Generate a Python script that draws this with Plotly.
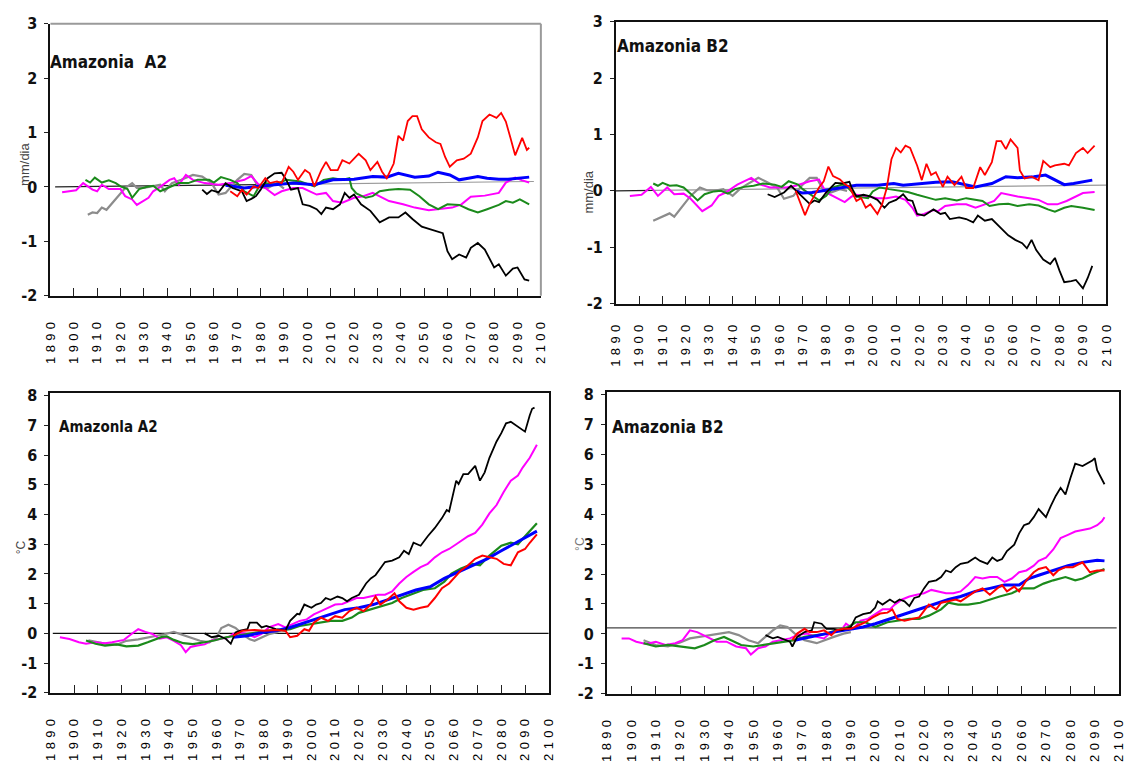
import plotly.graph_objects as go

W, H = 1135, 774

# decade labels on the time axes
label_years = list(range(1890, 2101, 10))
y_ticks_precip = [-2, -1, 0, 1, 2, 3]
y_ticks_temp = [-2, -1, 0, 1, 2, 3, 4, 5, 6, 7, 8]

# ---------------- precipitation anomaly, A2 (mm/dia) ----------------
tl_base_years = [1892, 1990, 2097]
tl_base_vals = [0.0, 0.048, 0.1]

tl_grey_x = [1906, 1908, 1910, 1912, 1914, 1916, 1919, 1922, 1925, 1927, 1930, 1934, 1937, 1939,
             1942, 1946, 1951, 1955, 1959, 1962, 1965, 1970, 1973, 1976, 1979, 1983, 1987, 1990]
tl_grey_y = [-0.51, -0.47, -0.48, -0.38, -0.42, -0.32, -0.17, -0.02, 0.07, -0.02, -0.02, 0.01, 0.04, -0.08,
             0.07, 0.13, 0.22, 0.19, 0.07, -0.14, -0.11, 0.13, 0.24, 0.22, 0.01, -0.02, 0.07, -0.03]

tl_magenta_x = [1895, 1901, 1904, 1908, 1910, 1912, 1915, 1920, 1922, 1925, 1927, 1930, 1932, 1934,
                1937, 1941, 1943, 1945, 1948, 1951, 1956, 1962, 1967, 1973, 1976, 1979, 1982, 1986,
                1989, 1994, 1998, 2004, 2008, 2011, 2015, 2020, 2024, 2028, 2031, 2035, 2041, 2046,
                2052, 2056, 2062, 2066, 2070, 2076, 2082, 2085, 2089, 2092, 2095]
tl_magenta_y = [-0.10, -0.06, 0.07, -0.05, -0.08, 0.04, -0.04, -0.04, -0.17, -0.23, -0.33, -0.26, -0.20, -0.08,
                0.00, 0.13, 0.16, 0.04, 0.22, 0.13, 0.07, 0.04, 0.07, 0.13, 0.20, 0.05, -0.02, -0.15,
                -0.08, -0.02, -0.02, -0.14, -0.11, -0.26, -0.29, -0.20, -0.17, -0.11, -0.17, -0.26, -0.32, -0.38,
                -0.43, -0.41, -0.38, -0.32, -0.18, -0.16, -0.11, 0.08, 0.17, 0.12, 0.08]

tl_green_x = [1905, 1907, 1909, 1912, 1915, 1918, 1920, 1923, 1925, 1928, 1931, 1934, 1937, 1941,
              1945, 1949, 1953, 1958, 1960, 1963, 1967, 1970, 1973, 1977, 1979, 1982, 1986, 1991,
              1997, 2003, 2007, 2011, 2015, 2018, 2019, 2021, 2025, 2028, 2031, 2035, 2039, 2044,
              2048, 2052, 2056, 2060, 2065, 2069, 2073, 2077, 2082, 2085, 2088, 2091, 2095]
tl_green_y = [0.13, 0.08, 0.17, 0.08, 0.12, 0.07, 0.01, -0.04, -0.20, -0.04, 0.00, 0.02, -0.08, 0.00,
              0.07, 0.07, 0.13, 0.13, 0.08, 0.18, 0.13, 0.07, -0.08, -0.17, -0.02, 0.07, 0.04, 0.13,
              0.10, 0.01, 0.13, 0.16, 0.13, 0.16, -0.02, -0.12, -0.20, -0.17, -0.08, -0.05, -0.04, -0.05,
              -0.17, -0.32, -0.41, -0.32, -0.33, -0.41, -0.47, -0.41, -0.33, -0.26, -0.29, -0.23, -0.32]

tl_blue_x = [1965, 1969, 1973, 1977, 1981, 1986, 1994, 2003, 2011, 2020, 2028, 2034, 2039,
             2042, 2046, 2052, 2056, 2061, 2065, 2069, 2073, 2077, 2082, 2086, 2090, 2095]
tl_blue_y = [0.03, 0.00, -0.02, 0.00, 0.02, 0.04, 0.07, 0.04, 0.13, 0.14, 0.19, 0.18, 0.25,
             0.22, 0.18, 0.20, 0.27, 0.22, 0.13, 0.16, 0.19, 0.16, 0.14, 0.14, 0.16, 0.18]

tl_black_x = [1955, 1957, 1959, 1962, 1965, 1968, 1972, 1974, 1976, 1978, 1980, 1983, 1986, 1989,
              1991, 1993, 1996, 1998, 2001, 2004, 2006, 2008, 2011, 2014, 2016, 2018, 2020, 2023,
              2027, 2031, 2035, 2039, 2042, 2045, 2049, 2054, 2058, 2060, 2062, 2065, 2068, 2070,
              2073, 2076, 2080, 2082, 2085, 2088, 2090, 2093, 2095]
tl_black_y = [-0.05, -0.13, -0.06, -0.10, 0.07, -0.02, -0.08, -0.26, -0.22, -0.17, -0.05, 0.16, 0.25, 0.26,
              0.13, -0.05, -0.02, -0.32, -0.35, -0.41, -0.50, -0.38, -0.41, -0.32, -0.11, -0.20, -0.14, -0.32,
              -0.44, -0.65, -0.56, -0.56, -0.47, -0.59, -0.73, -0.79, -0.85, -1.18, -1.33, -1.24, -1.30, -1.12,
              -1.03, -1.15, -1.48, -1.42, -1.63, -1.50, -1.48, -1.70, -1.72]

tl_red_x = [1967, 1970, 1972, 1974, 1977, 1979, 1982, 1984, 1987, 1989, 1992, 1994, 1996, 1999,
            2001, 2003, 2006, 2008, 2010, 2013, 2015, 2018, 2020, 2022, 2025, 2027, 2030, 2032,
            2034, 2037, 2039, 2041, 2043, 2045, 2047, 2049, 2052, 2055, 2057, 2059, 2061, 2064,
            2067, 2070, 2073, 2075, 2078, 2081, 2083, 2085, 2087, 2089, 2092, 2094, 2095]
tl_red_y = [-0.08, -0.17, -0.05, -0.14, 0.01, -0.02, 0.16, 0.07, 0.10, 0.07, 0.37, 0.28, 0.13, 0.31,
            0.25, 0.01, 0.31, 0.46, 0.31, 0.31, 0.49, 0.43, 0.52, 0.61, 0.49, 0.31, 0.46, 0.28,
            0.16, 0.43, 0.94, 0.85, 1.21, 1.30, 1.30, 1.06, 0.91, 0.82, 0.79, 0.55, 0.37, 0.49,
            0.52, 0.61, 0.91, 1.21, 1.33, 1.27, 1.36, 1.20, 0.90, 0.58, 0.90, 0.68, 0.72]

# ---------------- precipitation anomaly, B2 (mm/dia) ----------------
tr_base_years = [1890, 1906, 2100]
tr_base_vals = [0.0, 0.008, 0.1]

tr_grey_x = [1906, 1910, 1913, 1915, 1919, 1922, 1926, 1929, 1932, 1936, 1940, 1943, 1946,
             1951, 1954, 1959, 1962, 1966, 1970, 1973, 1976, 1979, 1982, 1986, 1989]
tr_grey_y = [-0.53, -0.46, -0.40, -0.46, -0.26, -0.09, 0.06, 0.01, 0.00, 0.03, -0.09, 0.03, 0.11,
             0.23, 0.17, 0.06, -0.14, -0.09, 0.11, 0.23, 0.23, 0.00, -0.03, 0.03, 0.00]

tr_magenta_x = [1896, 1901, 1905, 1908, 1912, 1915, 1919, 1922, 1927, 1931, 1934, 1937, 1942,
                1948, 1952, 1956, 1963, 1967, 1973, 1977, 1980, 1984, 1988, 1991, 1993, 1998,
                2002, 2006, 2010, 2014, 2017, 2019, 2022, 2026, 2028, 2031, 2036, 2040, 2044,
                2048, 2052, 2055, 2058, 2062, 2067, 2071, 2075, 2079, 2083, 2087, 2090, 2095]
tr_magenta_y = [-0.09, -0.07, 0.07, -0.09, 0.06, -0.06, -0.05, -0.14, -0.36, -0.26, -0.09, -0.03, 0.11,
                0.23, 0.11, 0.06, 0.06, 0.09, 0.17, 0.20, -0.03, -0.11, -0.20, -0.10, -0.07, -0.10,
                -0.13, -0.13, -0.10, -0.16, -0.30, -0.44, -0.41, -0.34, -0.36, -0.27, -0.24, -0.24, -0.30,
                -0.24, -0.18, -0.04, -0.07, -0.10, -0.13, -0.16, -0.24, -0.24, -0.18, -0.10, -0.04, -0.02]

tr_green_x = [1906, 1908, 1910, 1913, 1916, 1919, 1922, 1925, 1928, 1932, 1935, 1938, 1941, 1945,
              1949, 1953, 1958, 1961, 1964, 1968, 1970, 1975, 1977, 1980, 1983, 1987, 1989, 1993,
              1998, 2000, 2003, 2007, 2012, 2015, 2019, 2023, 2027, 2031, 2036, 2040, 2044, 2047,
              2050, 2054, 2058, 2062, 2067, 2071, 2075, 2078, 2082, 2085, 2090, 2095]
tr_green_y = [0.13, 0.09, 0.14, 0.09, 0.10, 0.06, -0.05, -0.17, -0.06, -0.01, 0.00, -0.05, 0.03, 0.07,
              0.09, 0.13, 0.11, 0.07, 0.17, 0.11, 0.03, -0.11, -0.17, -0.09, 0.06, 0.11, 0.07, -0.10,
              -0.13, -0.01, 0.06, 0.03, 0.00, -0.02, -0.07, -0.11, -0.16, -0.13, -0.17, -0.13, -0.16, -0.18,
              -0.27, -0.24, -0.23, -0.27, -0.24, -0.26, -0.33, -0.37, -0.30, -0.27, -0.30, -0.34]

tr_blue_x = [1967, 1970, 1974, 1978, 1982, 1985, 1993, 2002, 2009, 2013, 2020, 2027, 2034,
             2041, 2044, 2051, 2057, 2062, 2069, 2074, 2078, 2082, 2086, 2090, 2094]
tr_blue_y = [0.00, -0.04, -0.03, 0.00, 0.03, 0.05, 0.10, 0.10, 0.13, 0.10, 0.13, 0.15, 0.16,
             0.10, 0.07, 0.13, 0.25, 0.23, 0.25, 0.28, 0.19, 0.11, 0.13, 0.16, 0.19]

tr_black_x = [1955, 1958, 1960, 1962, 1965, 1968, 1970, 1973, 1975, 1977, 1980, 1982, 1984, 1987,
              1990, 1991, 1993, 1996, 1999, 2002, 2005, 2007, 2010, 2013, 2015, 2017, 2019, 2022,
              2024, 2026, 2029, 2031, 2033, 2037, 2040, 2043, 2045, 2048, 2051, 2055, 2058, 2061,
              2064, 2066, 2068, 2070, 2073, 2076, 2078, 2080, 2082, 2085, 2087, 2090, 2092, 2094]
tr_black_y = [-0.06, -0.11, -0.07, -0.03, 0.09, -0.03, -0.11, -0.23, -0.17, -0.20, -0.03, 0.06, 0.14, 0.13,
              0.16, 0.05, -0.10, -0.07, -0.10, -0.16, -0.30, -0.21, -0.16, -0.06, -0.16, -0.18, -0.41, -0.44,
              -0.39, -0.33, -0.41, -0.39, -0.50, -0.47, -0.50, -0.56, -0.44, -0.53, -0.50, -0.67, -0.79, -0.87,
              -0.93, -1.02, -0.87, -1.05, -1.22, -1.30, -1.19, -1.42, -1.62, -1.60, -1.58, -1.73, -1.55, -1.33]

tr_red_x = [1967, 1969, 1971, 1973, 1975, 1977, 1979, 1981, 1983, 1986, 1988, 1990, 1993, 1995,
            1997, 1999, 2002, 2004, 2006, 2008, 2010, 2012, 2014, 2016, 2019, 2021, 2023, 2025,
            2027, 2030, 2032, 2035, 2038, 2040, 2043, 2046, 2048, 2051, 2053, 2055, 2057, 2059,
            2062, 2063, 2065, 2068, 2071, 2073, 2076, 2078, 2082, 2084, 2087, 2090, 2092, 2095]
tr_red_y = [0.00, -0.20, -0.43, -0.23, -0.09, 0.06, 0.17, 0.43, 0.26, 0.20, 0.12, 0.07, -0.18, -0.13,
            -0.30, -0.24, -0.41, -0.24, 0.05, 0.56, 0.76, 0.68, 0.80, 0.76, 0.45, 0.19, 0.48, 0.28,
            0.33, 0.07, 0.25, 0.10, 0.25, 0.05, 0.05, 0.42, 0.28, 0.51, 0.88, 0.88, 0.74, 0.91,
            0.76, 0.36, 0.22, 0.25, 0.19, 0.53, 0.42, 0.45, 0.48, 0.45, 0.67, 0.76, 0.67, 0.80]

# ---------------- temperature anomaly, A2 (°C) ----------------
bl_base_years = [1891, 2100]
bl_base_vals = [0.0, 0.0]

bl_grey_x = [1906, 1910, 1914, 1918, 1922, 1927, 1931, 1935, 1938, 1942, 1945, 1949,
             1953, 1957, 1960, 1962, 1965, 1968, 1971, 1974, 1976, 1979, 1982, 1986]
bl_grey_y = [-0.23, -0.30, -0.36, -0.38, -0.25, -0.20, -0.14, -0.09, -0.03, 0.05, -0.03, -0.14,
             -0.25, -0.30, -0.14, 0.18, 0.29, 0.18, -0.03, -0.20, -0.25, -0.14, -0.03, 0.05]

bl_magenta_x = [1894, 1898, 1902, 1905, 1909, 1913, 1916, 1921, 1924, 1927, 1930, 1933, 1936, 1939,
                1942, 1945, 1947, 1949, 1952, 1955, 1958, 1962, 1965, 1967, 1970, 1973, 1976, 1979,
                1982, 1986, 1989, 1992, 1995, 1998, 2001, 2004, 2007, 2010, 2013, 2016, 2019, 2022,
                2025, 2028, 2031, 2034, 2037, 2040, 2043, 2046, 2049, 2052, 2055, 2058, 2061, 2063,
                2066, 2069, 2072, 2075, 2078, 2081, 2084, 2087, 2089, 2092, 2095]
bl_magenta_y = [-0.13, -0.19, -0.30, -0.35, -0.30, -0.33, -0.30, -0.22, -0.03, 0.14, 0.05, -0.02, -0.18, -0.13,
                -0.25, -0.40, -0.63, -0.46, -0.41, -0.37, -0.24, -0.19, -0.13, -0.02, 0.03, -0.02, -0.13, -0.02,
                0.20, 0.31, 0.20, 0.31, 0.42, 0.47, 0.64, 0.75, 0.86, 0.97, 0.99, 1.08, 1.19, 1.19,
                1.24, 1.30, 1.30, 1.41, 1.68, 1.90, 2.07, 2.23, 2.34, 2.56, 2.73, 2.84, 3.00, 3.11,
                3.27, 3.38, 3.66, 4.04, 4.32, 4.76, 5.14, 5.31, 5.58, 5.91, 6.35]

bl_green_x = [1905, 1909, 1913, 1918, 1922, 1927, 1931, 1934, 1937, 1939, 1942, 1946, 1950, 1955,
              1959, 1964, 1968, 1973, 1977, 1982, 1986, 1991, 1995, 2000, 2004, 2008, 2013, 2017,
              2020, 2025, 2029, 2034, 2038, 2043, 2047, 2052, 2056, 2059, 2063, 2068, 2071, 2075,
              2080, 2084, 2087, 2090, 2093, 2095]
bl_green_y = [-0.24, -0.35, -0.41, -0.37, -0.44, -0.41, -0.30, -0.22, -0.12, -0.10, -0.22, -0.33, -0.36, -0.30,
              -0.24, -0.13, -0.08, -0.02, 0.03, 0.09, 0.09, 0.14, 0.25, 0.31, 0.36, 0.42, 0.42, 0.53,
              0.69, 0.80, 0.91, 1.02, 1.19, 1.35, 1.46, 1.52, 1.74, 2.01, 2.18, 2.34, 2.29, 2.62,
              2.95, 3.05, 3.00, 3.27, 3.55, 3.71]

bl_blue_x = [1967, 1973, 1979, 1985, 1991, 1997, 2003, 2009, 2014, 2020, 2026, 2032,
             2038, 2044, 2050, 2056, 2062, 2068, 2074, 2080, 2086, 2092, 2095]
bl_blue_y = [-0.13, -0.08, 0.03, 0.09, 0.20, 0.36, 0.53, 0.69, 0.80, 0.86, 0.97, 1.13,
             1.30, 1.46, 1.57, 1.85, 2.07, 2.29, 2.51, 2.78, 3.05, 3.30, 3.44]

bl_black_x = [1955, 1958, 1961, 1964, 1966, 1968, 1970, 1973, 1974, 1977, 1979, 1981, 1985, 1989,
              1991, 1994, 1995, 1997, 2000, 2002, 2004, 2006, 2008, 2011, 2013, 2015, 2017, 2020,
              2023, 2025, 2027, 2029, 2031, 2034, 2037, 2039, 2041, 2043, 2046, 2049, 2051, 2052,
              2055, 2057, 2058, 2061, 2062, 2064, 2066, 2069, 2071, 2073, 2075, 2078, 2080, 2082,
              2084, 2087, 2090, 2092, 2093, 2094]
bl_black_y = [0.00, -0.13, -0.08, -0.19, -0.35, 0.03, 0.09, 0.14, 0.36, 0.36, 0.20, 0.25, 0.14, 0.09,
              0.42, 0.66, 0.64, 0.97, 0.86, 0.97, 1.02, 1.19, 1.13, 1.24, 1.19, 1.08, 1.19, 1.30,
              1.68, 1.85, 1.96, 2.18, 2.40, 2.45, 2.56, 2.78, 2.67, 3.05, 2.95, 3.27, 3.44, 3.55,
              3.88, 4.15, 4.10, 5.14, 5.03, 5.36, 5.36, 5.64, 5.14, 5.42, 5.91, 6.46, 6.74, 7.07,
              7.12, 6.96, 6.79, 7.34, 7.56, 7.60]

bl_red_x = [1967, 1971, 1976, 1980, 1985, 1989, 1991, 1994, 1997, 1999, 2001, 2004, 2007, 2010,
            2013, 2016, 2019, 2022, 2025, 2027, 2029, 2032, 2035, 2037, 2040, 2043, 2046, 2049,
            2052, 2055, 2058, 2061, 2063, 2066, 2069, 2072, 2075, 2078, 2081, 2084, 2087, 2090,
            2092, 2095]
bl_red_y = [-0.08, 0.09, 0.11, 0.09, 0.11, 0.09, -0.13, -0.08, 0.14, 0.09, 0.36, 0.53, 0.42, 0.58,
            0.53, 0.75, 0.86, 0.75, 0.97, 1.24, 0.97, 1.13, 1.35, 1.08, 0.86, 0.80, 0.86, 0.91,
            1.19, 1.52, 1.68, 1.96, 2.12, 2.29, 2.51, 2.62, 2.56, 2.51, 2.34, 2.29, 2.73, 2.84,
            3.05, 3.33]

# ---------------- temperature anomaly, B2 (°C) ----------------
br_base_years = [1890, 2099]
br_base_vals = [0.2, 0.2]

br_grey_x = [1905, 1910, 1915, 1920, 1924, 1928, 1933, 1936, 1940, 1944, 1948, 1952,
             1955, 1958, 1961, 1964, 1967, 1971, 1976, 1979, 1983, 1987, 1990]
br_grey_y = [-0.21, -0.37, -0.42, -0.29, -0.15, -0.10, -0.04, 0.01, 0.06, -0.04, -0.21, -0.31,
             -0.10, 0.12, 0.28, 0.23, 0.01, -0.21, -0.31, -0.21, -0.10, 0.01, 0.06]

br_magenta_x = [1896, 1899, 1902, 1906, 1910, 1914, 1918, 1921, 1924, 1927, 1931, 1935, 1939, 1943,
                1947, 1949, 1952, 1955, 1958, 1961, 1965, 1968, 1972, 1976, 1979, 1982, 1986, 1988,
                1991, 1994, 1997, 2000, 2003, 2006, 2008, 2011, 2014, 2017, 2020, 2023, 2026, 2029,
                2032, 2035, 2038, 2041, 2044, 2047, 2050, 2053, 2056, 2059, 2062, 2065, 2067, 2070,
                2073, 2076, 2079, 2082, 2085, 2088, 2091, 2093, 2094]
br_magenta_y = [-0.15, -0.15, -0.26, -0.34, -0.26, -0.37, -0.31, -0.21, 0.12, 0.06, -0.10, -0.26, -0.26, -0.42,
                -0.48, -0.69, -0.48, -0.42, -0.26, -0.21, -0.15, -0.04, 0.01, -0.10, -0.15, 0.06, 0.12, 0.34,
                0.17, 0.44, 0.50, 0.66, 0.82, 0.82, 0.98, 1.15, 1.25, 1.31, 1.36, 1.47, 1.42, 1.36,
                1.36, 1.42, 1.63, 1.90, 1.85, 1.90, 1.90, 1.74, 1.85, 2.06, 2.12, 2.28, 2.44, 2.55,
                2.82, 3.20, 3.31, 3.42, 3.47, 3.52, 3.63, 3.77, 3.90]

br_green_x = [1905, 1910, 1915, 1920, 1926, 1930, 1934, 1938, 1941, 1945, 1950, 1954, 1958, 1963,
              1967, 1971, 1976, 1980, 1984, 1989, 1992, 1996, 2000, 2005, 2009, 2014, 2018, 2022,
              2027, 2030, 2034, 2038, 2043, 2047, 2051, 2056, 2060, 2065, 2069, 2073, 2078, 2082,
              2085, 2089, 2094]
br_green_y = [-0.31, -0.42, -0.37, -0.42, -0.48, -0.37, -0.21, -0.10, -0.21, -0.37, -0.42, -0.37, -0.31, -0.26,
              -0.21, -0.10, -0.04, 0.01, 0.12, 0.23, 0.39, 0.39, 0.23, 0.39, 0.44, 0.50, 0.50, 0.61,
              0.82, 1.04, 0.98, 0.98, 1.04, 1.15, 1.25, 1.36, 1.52, 1.52, 1.68, 1.79, 1.90, 1.79,
              1.85, 2.01, 2.17]

br_blue_x = [1967, 1971, 1977, 1983, 1989, 1995, 2000, 2006, 2012, 2018, 2024, 2030,
             2035, 2041, 2047, 2053, 2059, 2063, 2067, 2073, 2079, 2085, 2091, 2094]
br_blue_y = [-0.21, -0.15, -0.04, 0.06, 0.14, 0.23, 0.34, 0.50, 0.66, 0.82, 0.98, 1.15,
             1.25, 1.42, 1.52, 1.63, 1.63, 1.85, 1.96, 2.12, 2.28, 2.39, 2.46, 2.44]

br_black_x = [1955, 1958, 1960, 1963, 1965, 1966, 1968, 1971, 1974, 1975, 1978, 1980, 1983, 1986,
              1990, 1992, 1995, 1998, 2000, 2001, 2003, 2006, 2008, 2010, 2012, 2014, 2016, 2018,
              2020, 2022, 2025, 2027, 2029, 2031, 2033, 2035, 2038, 2041, 2043, 2046, 2048, 2050,
              2052, 2054, 2057, 2059, 2061, 2063, 2065, 2067, 2070, 2072, 2074, 2076, 2078, 2080,
              2082, 2085, 2087, 2089, 2090, 2091, 2094]
br_black_y = [-0.04, -0.15, -0.10, -0.21, -0.26, -0.42, -0.10, 0.06, 0.12, 0.39, 0.34, 0.17, 0.17, 0.12,
              0.23, 0.55, 0.66, 0.71, 0.88, 1.09, 0.98, 1.15, 1.04, 1.15, 1.09, 0.93, 1.20, 1.25,
              1.52, 1.74, 1.79, 1.90, 2.12, 2.06, 2.23, 2.34, 2.39, 2.55, 2.44, 2.34, 2.55, 2.44,
              2.50, 2.77, 2.98, 3.36, 3.63, 3.69, 3.90, 4.17, 3.90, 4.28, 4.61, 4.88, 4.66, 5.20,
              5.69, 5.61, 5.69, 5.79, 5.87, 5.47, 5.00]

br_red_x = [1966, 1968, 1971, 1973, 1976, 1979, 1982, 1984, 1987, 1990, 1993, 1996, 1999, 2002,
            2005, 2007, 2009, 2012, 2015, 2018, 2020, 2022, 2025, 2027, 2030, 2033, 2035, 2038,
            2041, 2044, 2047, 2050, 2052, 2054, 2057, 2059, 2062, 2065, 2067, 2070, 2073, 2075,
            2078, 2081, 2085, 2088, 2091, 2094]
br_red_y = [-0.21, 0.01, 0.17, 0.06, 0.06, 0.12, -0.04, 0.12, 0.17, 0.17, 0.28, 0.39, 0.55, 0.68,
            0.71, 0.82, 0.50, 0.44, 0.50, 0.55, 0.77, 0.98, 0.82, 1.04, 1.09, 1.15, 1.09, 1.25,
            1.42, 1.52, 1.31, 1.52, 1.63, 1.42, 1.58, 1.42, 1.79, 2.06, 2.17, 2.23, 1.96, 2.12,
            2.23, 2.23, 2.39, 2.06, 2.12, 2.12]

# ---------------- styling ----------------
RED, BLUE, GREEN, MAGENTA, BLACK, GREY = "#ff0000", "#0000ff", "#1b8a1b", "#ff00ff", "#000000", "#8c8c8c"
NARROW = "DejaVu Sans Condensed, Liberation Sans Narrow, Arial Narrow, sans-serif"
PLAIN = "Liberation Sans, Arial, sans-serif"

fig = go.Figure()


def line(x, y, color, width, ax):
    fig.add_trace(go.Scatter(
        x=x, y=y, mode="lines", line=dict(color=color, width=width),
        xaxis="x" + ax, yaxis="y" + ax, showlegend=False, hoverinfo="skip"))


def panel(ax, base_x, base_y, base_colors, series):
    for i, c in enumerate(base_colors):
        line(base_x[i:i + 2], base_y[i:i + 2], c, 1.2, ax)
    for x, y, c, w in series:
        line(x, y, c, w, ax)


panel("", tl_base_years, tl_base_vals, ["#222222", "#9a9a9a"], [
    (tl_grey_x, tl_grey_y, GREY, 2.2), (tl_magenta_x, tl_magenta_y, MAGENTA, 2),
    (tl_green_x, tl_green_y, GREEN, 2), (tl_blue_x, tl_blue_y, BLUE, 3),
    (tl_black_x, tl_black_y, BLACK, 1.8), (tl_red_x, tl_red_y, RED, 1.8)])
panel("2", tr_base_years, tr_base_vals, ["#222222", "#9a9a9a"], [
    (tr_grey_x, tr_grey_y, GREY, 2.2), (tr_magenta_x, tr_magenta_y, MAGENTA, 2),
    (tr_green_x, tr_green_y, GREEN, 2), (tr_blue_x, tr_blue_y, BLUE, 3),
    (tr_black_x, tr_black_y, BLACK, 1.8), (tr_red_x, tr_red_y, RED, 1.8)])
panel("3", bl_base_years, bl_base_vals, ["#111111"], [
    (bl_grey_x, bl_grey_y, GREY, 2.2), (bl_magenta_x, bl_magenta_y, MAGENTA, 2),
    (bl_green_x, bl_green_y, GREEN, 2.2), (bl_blue_x, bl_blue_y, BLUE, 3),
    (bl_black_x, bl_black_y, BLACK, 1.8), (bl_red_x, bl_red_y, RED, 2)])
panel("4", br_base_years, br_base_vals, ["#444444"], [
    (br_grey_x, br_grey_y, GREY, 2.2), (br_magenta_x, br_magenta_y, MAGENTA, 2),
    (br_green_x, br_green_y, GREEN, 2.2), (br_blue_x, br_blue_y, BLUE, 3),
    (br_black_x, br_black_y, BLACK, 1.8), (br_red_x, br_red_y, RED, 2)])


def xdom(a, b):
    return [a / W, b / W]


def ydom(top, bottom):
    return [1 - bottom / H, 1 - top / H]


# digits of each decade label set apart with a three-per-em space
spaced = ["\u2004".join(str(v)) for v in label_years]


def xaxis(dom, anchor, mirror, standoff):
    return dict(domain=dom, anchor=anchor, range=[1890, 2100], tickmode="array",
                tickvals=label_years, ticktext=spaced, tickangle=-90, ticks="inside",
                ticklen=8, tickwidth=1, tickcolor="#222", showline=True, linecolor="#111",
                linewidth=2, mirror=mirror, showgrid=False, zeroline=False,
                tickfont=dict(family=PLAIN, size=13, color="#000"),
                ticklabelstandoff=standoff, fixedrange=True)


def yaxis(dom, anchor, rng, vals, mirror):
    return dict(domain=dom, anchor=anchor, range=rng, tickmode="array", tickvals=vals,
                ticktext=[str(v) for v in vals], ticks="outside", ticklen=4, tickwidth=1,
                tickcolor="#222", showline=True, linecolor="#111", linewidth=2,
                mirror=mirror, showgrid=False, zeroline=False,
                tickfont=dict(family=NARROW, size=16, color="#111", weight="bold"),
                ticklabelstandoff=4, fixedrange=True)


TL = (43, 540, 15, 294)
TR = (616, 1113, 13, 302)
BL = (43, 548, 394, 701)
BR = (607, 1126, 393, 702)

fig.update_layout(
    width=W, height=H, margin=dict(l=0, r=0, t=0, b=0),
    paper_bgcolor="white", plot_bgcolor="white",
    xaxis=xaxis(xdom(TL[0], TL[1]), "y", False, 19),
    yaxis=yaxis(ydom(TL[2], TL[3]), "x", [-2, 3], y_ticks_precip, False),
    xaxis2=xaxis(xdom(TR[0], TR[1]), "y2", True, 14),
    yaxis2=yaxis(ydom(TR[2], TR[3]), "x2", [-2, 3], y_ticks_precip, True),
    xaxis3=xaxis(xdom(BL[0], BL[1]), "y3", True, 19),
    yaxis3=yaxis(ydom(BL[2], BL[3]), "x3", [-2, 8.08], y_ticks_temp, True),
    xaxis4=xaxis(xdom(BR[0], BR[1]), "y4", True, 19),
    yaxis4=yaxis(ydom(BR[2], BR[3]), "x4", [-2, 8.07], y_ticks_temp, True),
)

# lighter top and right edges of the first frame
fig.add_shape(type="line", xref="paper", yref="paper",
              x0=TL[0] / W, x1=TL[1] / W, y0=1 - TL[2] / H, y1=1 - TL[2] / H,
              line=dict(color="#9a9a9a", width=2))
fig.add_shape(type="line", xref="paper", yref="paper",
              x0=TL[1] / W, x1=TL[1] / W, y0=1 - TL[2] / H, y1=1 - TL[3] / H,
              line=dict(color="#9a9a9a", width=2))


def note(text, x, y, size, family=NARROW, weight="bold", angle=0, color="#111", xanchor="left"):
    fig.add_annotation(text=text, xref="paper", yref="paper", x=x / W, y=1 - y / H,
                       xanchor=xanchor, yanchor="middle", showarrow=False, textangle=angle,
                       font=dict(family=family, size=size, color=color, weight=weight))


note("Amazonia\u00a0 A2", 41, 54, 17)
note("Amazonia B2", 615, 38, 17)
note("Amazonla A2", 50, 429, 15)
note("Amazonia B2", 610, 429, 17)

note("mm/dia", 16, 159, 13, family=PLAIN, weight="normal", angle=-90, color="#444", xanchor="center")
note("mm/dia", 588, 188, 13, family=PLAIN, weight="normal", angle=-90, color="#444", xanchor="center")
note("°C", 14, 552, 12, family=PLAIN, weight="normal", angle=-90, color="#444", xanchor="center")
note("°C", 579, 548, 12, family=PLAIN, weight="normal", angle=-90, color="#777", xanchor="center")

fig.write_html("out.html")
